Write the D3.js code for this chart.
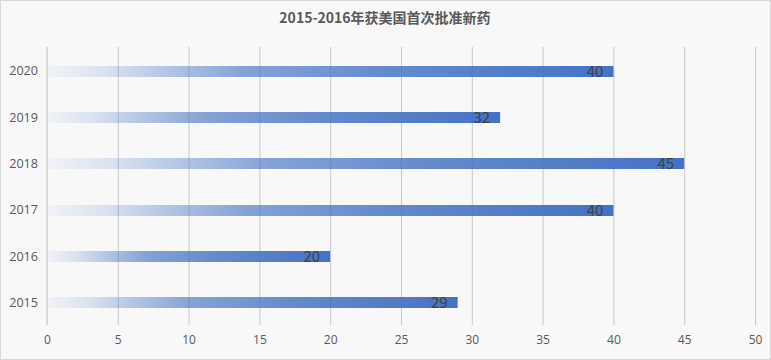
<!DOCTYPE html>
<html><head><meta charset="utf-8">
<script src="https://cdn.jsdelivr.net/npm/d3@7"></script>
<style>
html,body{margin:0;padding:0;background:#fff;}
svg{display:block;font-family:"Noto Sans CJK SC","Open Sans","Noto Sans",sans-serif;}
</style></head>
<body>
<script>
const title = "2015-2016年获美国首次批准新药";
const categories = ["2020","2019","2018","2017","2016","2015"];
const values = [40,32,45,40,20,29];
const xTicks = [0,5,10,15,20,25,30,35,40,45,50];

const W = 771, H = 360;
const svg = d3.select("body").append("svg").attr("width", W).attr("height", H);
svg.append("rect").attr("x",0.5).attr("y",0.5).attr("width",W-1).attr("height",H-1)
  .attr("fill","#f8f8f8").attr("stroke","#d9d9d9");

const defs = svg.append("defs");
const grad = defs.append("linearGradient").attr("id","barGrad")
  .attr("x1","0%").attr("x2","100%").attr("y1","0%").attr("y2","0%");
[[0,0.04],[0.1,0.16],[0.2,0.36],[0.35,0.64],[0.6,0.82],[1,1]].forEach(([o,a])=>{
  grad.append("stop").attr("offset",o).attr("stop-color","#4472C4").attr("stop-opacity",a);
});

const x = d3.scaleLinear().domain([0,50]).range([47,755]);
const y = d3.scaleBand().domain(categories).range([48,326]).paddingInner(0).paddingOuter(0);

// gridlines
svg.append("g").selectAll("line").data(xTicks.filter(d=>d>0)).join("line")
  .attr("x1",d=>x(d)+0.5).attr("x2",d=>x(d)+0.5).attr("y1",47).attr("y2",325)
  .attr("stroke","#c8c8c8").attr("stroke-width",1);

// bars
const barH = 11;
svg.append("g").selectAll("rect").data(values).join("rect")
  .attr("x",x(0)).attr("y",(d,i)=>Math.round(y(categories[i])+y.bandwidth()/2-barH/2))
  .attr("width",d=>x(d)-x(0)).attr("height",barH)
  .attr("fill","url(#barGrad)");

// left axis line
svg.append("line").attr("x1",x(0)).attr("x2",x(0)).attr("y1",47).attr("y2",325)
  .attr("stroke","#d9d9d9").attr("stroke-width",2);

// value labels
svg.append("g").selectAll("text").data(values).join("text")
  .attr("x",d=>x(d)-10).attr("y",(d,i)=>y(categories[i])+y.bandwidth()/2)
  .attr("dy","0.36em").attr("text-anchor","end")
  .attr("font-size",15).attr("fill","#404040").text(d=>d);

// y axis labels
const yAxis = d3.axisLeft(y).tickSize(0).tickPadding(8);
const gy = svg.append("g").attr("transform",`translate(${x(0)-1},0)`).call(yAxis);
gy.select(".domain").remove();
gy.selectAll("text").attr("font-size",12.6).attr("fill","#595959")
  .attr("font-family","'Open Sans','Noto Sans',sans-serif");

// x axis labels
const xAxis = d3.axisBottom(x).tickValues(xTicks).tickSize(0).tickPadding(10);
const gx = svg.append("g").attr("transform","translate(0,325)").call(xAxis);
gx.select(".domain").remove();
gx.selectAll("text").attr("font-size",12).attr("fill","#595959")
  .attr("font-family","'Open Sans','Noto Sans',sans-serif");

// title
svg.append("text").attr("x",385).attr("y",23).attr("text-anchor","middle")
  .attr("font-size",14).attr("font-weight","bold").attr("fill","#595959").text(title);
</script>
</body></html>
